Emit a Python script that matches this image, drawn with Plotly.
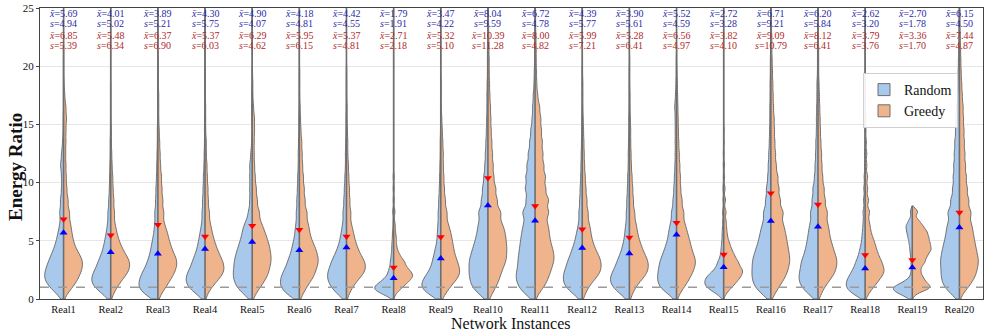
import plotly.graph_objects as go

categories = ["Real1", "Real2", "Real3", "Real4", "Real5", "Real6", "Real7", "Real8", "Real9", "Real10",
              "Real11", "Real12", "Real13", "Real14", "Real15", "Real16", "Real17", "Real18", "Real19", "Real20"]

random_means = [5.69, 4.01, 3.89, 4.30, 4.90, 4.18, 4.42, 1.79, 3.47, 8.04,
                6.72, 4.39, 3.90, 5.52, 2.72, 6.71, 6.20, 2.62, 2.70, 6.15]
random_stds = [4.94, 5.02, 5.21, 5.75, 4.07, 4.81, 4.55, 1.91, 4.22, 9.59,
               4.78, 5.77, 5.61, 4.59, 3.28, 9.21, 5.84, 3.20, 1.78, 4.50]
greedy_means = [6.85, 5.48, 6.37, 5.37, 6.29, 5.95, 5.37, 2.71, 5.32, 10.39,
                8.00, 5.99, 5.28, 6.56, 3.82, 9.09, 8.12, 3.79, 3.36, 7.44]
greedy_stds = [5.39, 6.34, 6.90, 6.03, 4.62, 6.15, 4.81, 2.18, 5.10, 11.28,
               4.82, 7.21, 6.41, 4.97, 4.10, 10.79, 6.41, 3.76, 1.70, 4.87]

# upper end of each violin (most run past the top of the axis)
span_top = [30, 30, 30, 30, 30, 30, 30, 30, 30, 30,
            30, 30, 30, 30, 30, 30, 30, 30, 8.0, 30]

# energy-ratio values (bin centres) and how many runs fall at each, per instance
ratio_grid = [0.125, 0.375, 0.625, 0.875, 1.125, 1.375, 1.625, 1.875, 2.125, 2.375, 2.625, 2.875,
              3.25, 3.75, 4.25, 4.75, 5.25, 5.75, 6.25, 6.75,
              7.5, 8.5, 9.5, 10.5, 11.5, 12.5, 13.5, 14.5, 15.5, 16.5, 17.5, 18.5, 19.5, 20.5, 21.5, 22.5, 23.5, 24.5]

random_counts = [
    [3, 6, 9, 12, 15, 18, 19, 20, 19, 19, 18, 17, 29, 25, 20, 16, 13, 11, 8, 7, 14, 12, 8, 8, 12, 8, 4, 2, 2, 1, 1, 1, 1, 1, 1, 0, 0, 0],
    [3, 6, 10, 14, 17, 18, 18, 18, 17, 15, 14, 13, 22, 18, 14, 12, 10, 8, 6, 6, 9, 7, 5, 4, 3, 2, 2, 1, 1, 1, 1, 1, 0, 0, 0, 0, 0, 0],
    [8, 12, 16, 18, 18, 18, 17, 16, 15, 14, 12, 11, 18, 15, 13, 11, 9, 7, 6, 6, 10, 8, 7, 5, 4, 3, 2, 2, 1, 1, 1, 1, 0, 0, 0, 0, 0, 0],
    [3, 7, 11, 15, 17, 18, 19, 18, 17, 16, 14, 13, 23, 19, 15, 13, 11, 9, 7, 6, 10, 9, 7, 6, 4, 3, 2, 2, 2, 1, 1, 1, 1, 0, 0, 0, 0, 0],
    [4, 7, 11, 14, 15, 17, 17, 18, 18, 18, 18, 17, 33, 31, 28, 24, 21, 18, 17, 12, 12, 9, 9, 9, 9, 5, 2, 1, 2, 2, 2, 1, 1, 0, 0, 0, 0, 0],
    [6, 12, 15, 17, 18, 18, 18, 17, 16, 15, 13, 12, 21, 17, 14, 12, 9, 8, 7, 6, 10, 9, 7, 6, 4, 4, 3, 2, 2, 1, 1, 1, 1, 0, 0, 0, 0, 0],
    [5, 8, 11, 14, 16, 17, 18, 19, 19, 18, 17, 16, 28, 23, 18, 14, 12, 10, 8, 7, 12, 10, 8, 6, 4, 4, 3, 2, 2, 1, 1, 1, 1, 0, 0, 0, 0, 0],
    [2, 8, 14, 18, 16, 12, 9, 6, 5, 4, 4, 3, 5, 4, 3, 3, 2, 2, 1, 1, 2, 1, 1, 1, 0, 0, 0, 0, 0, 0, 0, 0, 0, 0, 0, 0, 0, 0],
    [4, 10, 15, 18, 18, 17, 16, 14, 12, 10, 9, 8, 14, 12, 10, 7, 6, 6, 5, 5, 8, 7, 5, 4, 3, 2, 2, 1, 1, 1, 1, 0, 0, 0, 0, 0, 0, 0],
    [4, 8, 12, 15, 17, 17, 18, 18, 19, 19, 19, 19, 37, 34, 31, 27, 24, 21, 20, 19, 33, 25, 21, 16, 12, 10, 8, 6, 5, 4, 4, 3, 2, 2, 2, 1, 1, 1],
    [5, 9, 13, 15, 16, 17, 18, 19, 18, 18, 17, 16, 32, 31, 30, 28, 27, 25, 23, 22, 43, 32, 36, 34, 30, 25, 20, 16, 11, 9, 7, 4, 3, 2, 2, 2, 1, 1],
    [4, 7, 12, 16, 18, 19, 19, 19, 19, 18, 17, 16, 28, 24, 20, 16, 13, 11, 8, 7, 12, 10, 8, 6, 5, 4, 3, 2, 2, 1, 1, 1, 1, 0, 0, 0, 0, 0],
    [4, 7, 11, 14, 16, 18, 18, 18, 16, 15, 14, 12, 22, 17, 14, 11, 9, 8, 7, 6, 10, 9, 7, 6, 4, 4, 3, 2, 2, 1, 1, 1, 1, 0, 0, 0, 0, 0],
    [3, 6, 11, 16, 18, 18, 18, 18, 18, 18, 17, 17, 31, 27, 23, 19, 16, 15, 13, 11, 17, 13, 10, 8, 6, 5, 5, 5, 5, 7, 4, 2, 1, 1, 0, 0, 0, 0],
    [2, 5, 10, 15, 18, 19, 18, 17, 14, 10, 8, 7, 10, 6, 5, 4, 3, 3, 2, 2, 3, 2, 2, 1, 1, 1, 0, 0, 0, 0, 0, 0, 0, 0, 0, 0, 0, 0],
    [4, 8, 12, 15, 17, 18, 18, 19, 19, 19, 19, 19, 36, 34, 30, 26, 23, 21, 18, 16, 26, 20, 17, 12, 10, 8, 6, 5, 4, 4, 3, 3, 2, 2, 1, 1, 1, 0],
    [5, 9, 12, 15, 17, 18, 19, 19, 18, 18, 17, 17, 32, 27, 24, 22, 20, 18, 17, 15, 26, 22, 19, 13, 11, 9, 8, 6, 6, 5, 4, 4, 2, 2, 2, 1, 1, 1],
    [4, 11, 15, 17, 18, 18, 17, 15, 14, 12, 11, 10, 16, 12, 10, 7, 6, 5, 4, 4, 6, 5, 4, 3, 2, 2, 1, 1, 1, 0, 0, 0, 0, 0, 0, 0, 0, 0],
    [4, 9, 15, 19, 15, 9, 4, 2, 1, 1, 1, 1, 2, 3, 4, 5, 7, 9, 11, 6, 4, 0, 0, 0, 0, 0, 0, 0, 0, 0, 0, 0, 0, 0, 0, 0, 0, 0],
    [4, 7, 11, 14, 16, 17, 18, 18, 18, 18, 19, 19, 37, 36, 34, 31, 28, 26, 25, 23, 41, 33, 26, 24, 22, 20, 18, 15, 13, 11, 7, 6, 5, 4, 3, 2, 2, 2],
]

greedy_counts = [
    [1, 2, 4, 7, 9, 11, 12, 13, 14, 16, 17, 17, 33, 29, 22, 18, 16, 14, 13, 12, 18, 15, 11, 9, 8, 7, 8, 8, 10, 8, 4, 2, 1, 1, 1, 0, 0, 0],
    [1, 1, 3, 4, 5, 7, 8, 10, 12, 14, 15, 15, 28, 23, 18, 14, 11, 9, 7, 6, 10, 9, 7, 6, 4, 3, 2, 2, 1, 1, 1, 1, 0, 0, 0, 0, 0, 0],
    [1, 1, 3, 4, 5, 6, 7, 8, 9, 10, 11, 11, 22, 19, 16, 14, 12, 11, 8, 7, 12, 11, 9, 8, 6, 5, 4, 3, 2, 2, 2, 1, 1, 1, 0, 0, 0, 0],
    [1, 1, 3, 4, 6, 8, 10, 12, 14, 16, 16, 15, 27, 23, 19, 16, 13, 11, 9, 8, 12, 10, 9, 7, 6, 4, 4, 2, 2, 2, 1, 1, 1, 0, 0, 0, 0, 0],
    [1, 2, 4, 5, 7, 8, 10, 11, 12, 13, 13, 14, 28, 28, 27, 25, 22, 19, 16, 13, 19, 15, 12, 9, 7, 6, 6, 7, 7, 4, 2, 2, 1, 1, 0, 0, 0, 0],
    [1, 2, 3, 4, 5, 6, 8, 9, 10, 10, 11, 12, 24, 23, 21, 18, 14, 13, 12, 11, 17, 14, 12, 10, 8, 7, 6, 4, 3, 2, 1, 1, 1, 0, 0, 0, 0, 0],
    [1, 1, 3, 4, 5, 7, 8, 11, 13, 15, 16, 16, 27, 22, 18, 15, 12, 11, 8, 7, 12, 10, 9, 7, 6, 4, 4, 3, 2, 2, 1, 1, 1, 0, 0, 0, 0, 0],
    [0, 1, 2, 4, 6, 7, 9, 11, 11, 9, 8, 7, 11, 7, 4, 3, 3, 2, 2, 1, 2, 1, 1, 1, 0, 0, 0, 0, 0, 0, 0, 0, 0, 0, 0, 0, 0, 0],
    [1, 2, 3, 4, 5, 6, 8, 9, 10, 10, 10, 9, 16, 14, 13, 12, 11, 10, 8, 7, 11, 9, 7, 6, 5, 5, 4, 3, 2, 1, 1, 1, 0, 0, 0, 0, 0, 0],
    [2, 3, 4, 5, 7, 8, 9, 9, 10, 11, 12, 13, 28, 29, 30, 29, 28, 27, 24, 22, 36, 28, 24, 18, 16, 14, 12, 10, 9, 8, 6, 5, 4, 4, 3, 3, 2, 2],
    [1, 2, 4, 7, 9, 10, 11, 12, 13, 14, 15, 16, 33, 34, 32, 28, 26, 25, 24, 22, 44, 47, 36, 36, 30, 27, 25, 22, 20, 16, 9, 6, 5, 4, 4, 3, 2, 2],
    [1, 2, 3, 4, 5, 7, 9, 11, 13, 15, 15, 15, 28, 25, 20, 17, 14, 13, 12, 10, 16, 14, 11, 9, 7, 6, 5, 4, 3, 2, 2, 2, 1, 1, 1, 0, 0, 0],
    [1, 2, 3, 4, 5, 7, 9, 11, 13, 15, 15, 15, 28, 24, 20, 17, 14, 12, 11, 10, 14, 12, 10, 8, 6, 5, 4, 4, 3, 2, 2, 1, 1, 1, 0, 0, 0, 0],
    [1, 2, 4, 6, 8, 10, 11, 13, 14, 16, 17, 18, 36, 32, 28, 26, 23, 20, 17, 15, 24, 20, 15, 14, 12, 10, 8, 7, 6, 5, 4, 3, 2, 1, 1, 0, 0, 0],
    [0, 1, 3, 5, 7, 9, 11, 12, 14, 15, 14, 12, 20, 16, 12, 9, 6, 5, 4, 4, 5, 4, 3, 2, 2, 1, 1, 1, 0, 0, 0, 0, 0, 0, 0, 0, 0, 0],
    [1, 3, 4, 5, 7, 8, 10, 11, 12, 13, 14, 14, 29, 28, 27, 25, 24, 22, 20, 19, 34, 28, 24, 21, 16, 14, 12, 11, 10, 8, 7, 6, 5, 4, 3, 3, 2, 2],
    [1, 2, 3, 4, 5, 7, 8, 10, 12, 13, 13, 14, 27, 25, 22, 20, 17, 16, 15, 14, 24, 20, 17, 13, 11, 10, 8, 7, 6, 5, 4, 3, 2, 2, 2, 1, 1, 1],
    [1, 2, 3, 5, 7, 8, 10, 11, 13, 14, 14, 13, 22, 19, 16, 14, 11, 8, 7, 6, 10, 8, 6, 6, 4, 4, 3, 2, 2, 1, 1, 1, 0, 0, 0, 0, 0, 0],
    [0, 1, 2, 8, 8, 4, 5, 4, 3, 3, 3, 4, 9, 11, 14, 13, 12, 11, 8, 5, 5, 0, 0, 0, 0, 0, 0, 0, 0, 0, 0, 0, 0, 0, 0, 0, 0, 0],
    [1, 2, 4, 7, 9, 11, 12, 14, 15, 16, 16, 17, 34, 32, 30, 28, 26, 24, 23, 21, 37, 32, 27, 24, 21, 19, 17, 16, 14, 13, 10, 8, 6, 5, 4, 3, 2, 2],
]

baseline = 1.0

SERIF = "Liberation Serif"
BLUE_FILL = "#a8c8ec"
ORANGE_FILL = "#f0b48c"
EDGE = "#6e6e6e"
# narrower kernels for the instances whose mass sits tight near 1
kde_bw = {"Real8": 0.28, "Real15": 0.3, "Real18": 0.35, "Real19": 0.27}


def expand(counts):
    return [v for v, c in zip(ratio_grid, counts) for _ in range(c)]


fig = go.Figure()

for i, cat in enumerate(categories):
    for side, counts, name, color in (
        ("negative", random_counts[i], "Random", BLUE_FILL),
        ("positive", greedy_counts[i], "Greedy", ORANGE_FILL),
    ):
        vals = expand(counts)
        fig.add_violin(
            x=[cat] * len(vals),
            y=vals,
            side=side,
            name=name,
            legendgroup=name,
            showlegend=(i == 0),
            scalegroup=cat,
            scalemode="width",
            width=0.8,
            spanmode="manual",
            span=[0, span_top[i]],
            bandwidth=kde_bw.get(cat, 0.45),
            fillcolor=color,
            line=dict(color=EDGE, width=1),
            points=False,
            hoverinfo="skip",
        )

# centre stems of the split violins
stem_x, stem_y = [], []
for cat, top in zip(categories, span_top):
    stem_x += [cat, cat, None]
    stem_y += [0, top, None]
fig.add_scatter(x=stem_x, y=stem_y, mode="lines", line=dict(color=EDGE, width=1.6),
                showlegend=False, hoverinfo="skip")

fig.add_scatter(x=categories, y=random_means, mode="markers",
                marker=dict(symbol="triangle-up", color="blue", size=7),
                showlegend=False, hoverinfo="skip")
fig.add_scatter(x=categories, y=greedy_means, mode="markers",
                marker=dict(symbol="triangle-down", color="red", size=7),
                showlegend=False, hoverinfo="skip")

fig.add_hline(y=baseline, line=dict(color="#9a9a9a", dash="dash", width=1.5))

stat_rows = [
    (random_means, "<i>x\u0304</i>=", "#2b2ba8", 24.55),
    (random_stds, "<i>s</i>=", "#2b2ba8", 23.65),
    (greedy_means, "<i>x\u0304</i>=", "#b02a2a", 22.65),
    (greedy_stds, "<i>s</i>=", "#b02a2a", 21.75),
]
for values, prefix, color, ypos in stat_rows:
    for cat, v in zip(categories, values):
        fig.add_annotation(x=cat, y=ypos, text=f"{prefix}{v:.2f}", showarrow=False,
                           font=dict(family=SERIF, size=10, color=color),
                           xanchor="center", yanchor="middle")

# axis titles
fig.add_annotation(xref="paper", yref="paper", x=-0.0265, y=0.4536, text="<b>Energy Ratio</b>",
                   textangle=-90, showarrow=False, font=dict(family=SERIF, size=19, color="#111"),
                   xanchor="center", yanchor="middle")
fig.add_annotation(xref="paper", yref="paper", x=0.4995, y=-0.0825, text="Network Instances",
                   showarrow=False, font=dict(family=SERIF, size=16, color="#111"),
                   xanchor="center", yanchor="middle")

fig.update_layout(
    width=988,
    height=333,
    margin=dict(l=40, r=5, t=8, b=34),
    paper_bgcolor="white",
    plot_bgcolor="white",
    violinmode="overlay",
    font=dict(family=SERIF, color="#111"),
    legend=dict(
        x=0.9735, y=0.7766, xanchor="right", yanchor="top",
        bgcolor="rgba(255,255,255,0.9)", bordercolor="#d0d0d0", borderwidth=1,
        tracegroupgap=0,
        font=dict(family=SERIF, size=14),
    ),
    xaxis=dict(
        type="category",
        range=[-0.5, 19.5],
        showgrid=False,
        showline=True, mirror=True, linecolor="#444", linewidth=1.2,
        ticks="",
        tickfont=dict(family=SERIF, size=10.5),
        automargin=False,
    ),
    yaxis=dict(
        range=[0, 25],
        tickvals=[0, 5, 10, 15, 20, 25],
        showgrid=True, gridcolor="#e6e6e6", gridwidth=1,
        zeroline=False,
        showline=True, mirror=True, linecolor="#444", linewidth=1.2,
        ticks="outside", ticklen=3, tickcolor="#444",
        tickfont=dict(family=SERIF, size=11),
        automargin=False,
    ),
)

# drop the browser's default 8px body margin so the figure fills the window exactly
fig.write_html(
    "out.html",
    config={"displayModeBar": False},
    post_script="document.body.style.margin = '0px';",
)
